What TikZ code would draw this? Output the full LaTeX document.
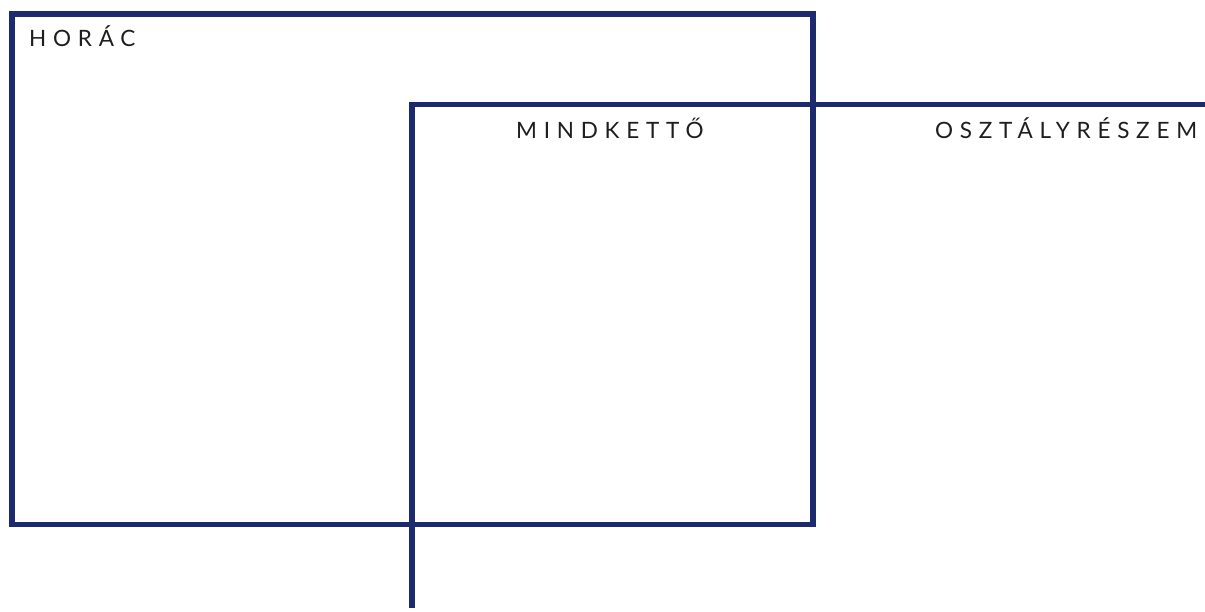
\documentclass[tikz,border=0pt]{standalone}
\usepackage{fontspec}
\setmainfont{Lato}
\newfontfamily\labfont[LetterSpace=30]{Lato}
\definecolor{navy}{RGB}{28,43,110}
\definecolor{ink}{RGB}{30,30,30}
\tikzset{
  frame/.style={draw=navy, line width=5.5pt, line join=miter, line cap=rect},
  lab/.style={inner sep=0pt, anchor=base west, text=ink, font=\labfont\fontsize{22.5}{26}\selectfont}
}
\begin{document}
\begin{tikzpicture}[x=1pt,y=-1pt]
\useasboundingbox[fill=white] (0,0) rectangle (1205,612);
\draw[frame] (12,14) rectangle (813,524.5);
\draw[frame, line cap=butt] (412,608) -- (412,104.5) -- (1210,104.5);
\node[lab] (horac) at (29,47) {HORÁC};
\node[lab] (mind) at (516,139) {MINDKETTŐ};
\node[lab] (oszt) at (935,139) {OSZTÁLYRÉSZEM};
\end{tikzpicture}
\end{document}
